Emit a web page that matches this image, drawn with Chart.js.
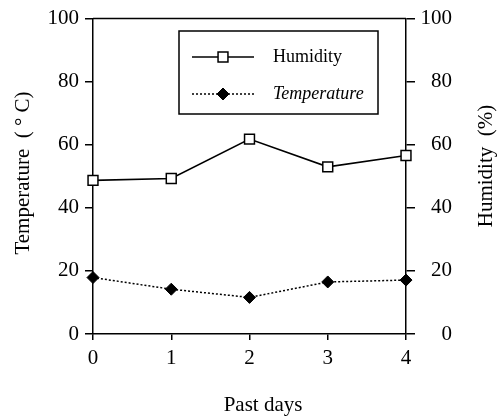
<!DOCTYPE html>
<html>
<head>
<meta charset="utf-8">
<script src="https://cdn.jsdelivr.net/npm/chart.js@4/dist/chart.umd.min.js"></script>
<style>
  html, body { margin: 0; padding: 0; background: #fff; }
  #wrap { width: 501px; height: 416px; position: relative; }
</style>
</head>
<body>
<div id="wrap"><canvas id="c" width="501" height="416"></canvas></div>
<script>
const days = ['0', '1', '2', '3', '4'];
const humidity = [48.7, 49.3, 61.8, 53.0, 56.6];
const temperature = [17.9, 14.2, 11.6, 16.5, 17.1];
const seriesNames = ['Humidity', 'Temperature'];
const xTitle = 'Past days';
const leftTitle = 'Temperature  ( \u00B0 C)';
const rightTitle = 'Humidity  (%)';

const FONT = '"Liberation Serif", "DejaVu Serif", serif';

const overlay = {
  id: 'overlay',
  afterDraw(chart) {
    const ctx = chart.ctx;
    const a = chart.chartArea;
    ctx.save();
    // top frame line
    ctx.strokeStyle = '#000';
    ctx.lineWidth = 1.5;
    ctx.beginPath();
    ctx.moveTo(a.left, a.top);
    ctx.lineTo(a.right, a.top);
    ctx.stroke();

    // axis titles
    ctx.fillStyle = '#000';
    ctx.font = '21px ' + FONT;
    ctx.textAlign = 'center';
    ctx.textBaseline = 'middle';
    ctx.fillText(xTitle, 263, 405);

    ctx.save();
    ctx.translate(23, 173);
    ctx.rotate(-Math.PI / 2);
    ctx.fillText(leftTitle, 0, 0);
    ctx.restore();

    ctx.save();
    ctx.translate(486, 166);
    ctx.rotate(-Math.PI / 2);
    ctx.fillText(rightTitle, 0, 0);
    ctx.restore();

    // legend box
    const bx = 179, by = 31, bw = 199, bh = 83;
    ctx.lineWidth = 1.5;
    ctx.strokeStyle = '#000';
    ctx.strokeRect(bx, by, bw, bh);
    const rows = [57, 94];
    chart.data.datasets.forEach((ds, i) => {
      const y = rows[i];
      ctx.save();
      ctx.strokeStyle = ds.borderColor;
      ctx.lineWidth = ds.borderWidth;
      ctx.setLineDash(ds.borderDash || []);
      ctx.beginPath();
      ctx.moveTo(192, y);
      ctx.lineTo(254, y);
      ctx.stroke();
      ctx.restore();
      ctx.save();
      ctx.fillStyle = ds.pointBackgroundColor;
      ctx.strokeStyle = ds.pointBorderColor;
      ctx.lineWidth = ds.pointBorderWidth;
      Chart.helpers.drawPoint(ctx, {
        pointStyle: ds.pointStyle,
        radius: ds.pointRadius,
        rotation: 0,
        borderWidth: ds.pointBorderWidth
      }, 223, y);
      ctx.restore();
      ctx.fillStyle = '#000';
      ctx.textAlign = 'left';
      ctx.textBaseline = 'middle';
      ctx.font = (i === 1 ? 'italic ' : '') + '18px ' + FONT;
      ctx.fillText(ds.label, 273, y);
    });
    ctx.restore();
  }
};

new Chart(document.getElementById('c'), {
  type: 'line',
  data: {
    labels: days,
    datasets: [
      {
        label: seriesNames[0],
        data: humidity,
        yAxisID: 'y2',
        borderColor: '#000',
        borderWidth: 1.6,
        pointStyle: 'rect',
        pointRadius: 7,
        pointBackgroundColor: '#fff',
        pointBorderColor: '#000',
        pointBorderWidth: 1.5,
        tension: 0,
        fill: false
      },
      {
        label: seriesNames[1],
        data: temperature,
        yAxisID: 'y',
        borderColor: '#000',
        borderWidth: 1.5,
        borderDash: [2, 2],
        pointStyle: 'rectRot',
        pointRadius: 6,
        pointBackgroundColor: '#000',
        pointBorderColor: '#000',
        pointBorderWidth: 1,
        tension: 0,
        fill: false
      }
    ]
  },
  options: {
    responsive: false,
    animation: false,
    devicePixelRatio: 1,
    layout: { padding: { top: 18, left: 0, right: 49, bottom: 0 } },
    plugins: {
      legend: { display: false },
      tooltip: { enabled: false },
      title: { display: false }
    },
    scales: {
      x: {
        type: 'category',
        offset: false,
        border: { display: true, color: '#000', width: 1.5 },
        grid: { display: true, drawOnChartArea: false, drawTicks: true, tickLength: 6, color: '#000', lineWidth: 1.5 },
        ticks: { color: '#000', font: { family: FONT, size: 21 }, padding: 6, maxRotation: 0 },
        afterFit(s) { s.height = 82; }
      },
      y: {
        position: 'left',
        min: 0, max: 100,
        border: { display: true, color: '#000', width: 1.5 },
        grid: { display: true, drawOnChartArea: false, drawTicks: true, tickLength: 8, color: '#000', lineWidth: 1.5 },
        ticks: { stepSize: 20, color: '#000', font: { family: FONT, size: 21 }, padding: 6 },
        afterFit(s) { s.width = 93; }
      },
      y2: {
        position: 'right',
        min: 0, max: 100,
        border: { display: true, color: '#000', width: 1.5 },
        grid: { display: true, drawOnChartArea: false, drawTicks: true, tickLength: 9, color: '#000', lineWidth: 1.5 },
        ticks: { stepSize: 20, color: '#000', font: { family: FONT, size: 21 }, padding: 6, crossAlign: 'far' },
        afterFit(s) { s.width = 46; }
      }
    }
  },
  plugins: [overlay]
});
</script>
</body>
</html>
